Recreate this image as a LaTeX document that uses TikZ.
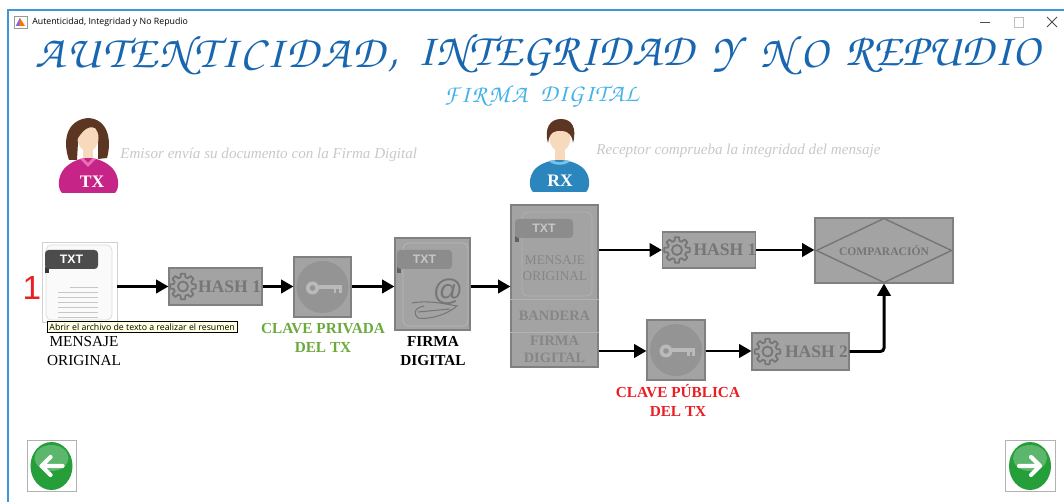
\documentclass[tikz,border=0pt]{standalone}
\usepackage{fontspec}
\setmainfont{Liberation Serif}
\newfontfamily\uifont{Open Sans}
\newfontfamily\numfont{Liberation Sans}
\usetikzlibrary{arrows.meta,calc}

% calligraphic caps for the headings
\newcommand\chancery{\fontencoding{OT1}\fontfamily{pzc}\fontseries{mb}\fontshape{it}\selectfont}
% letters of a word spread out with \hfil
\def\spreadword#1{\spreadloop#1\relax}
\def\spreadloop#1{\ifx#1\relax\else#1\hfil\expandafter\spreadloop\fi}
% word #2 spread over #1 pt
\newcommand\wideword[2]{\makebox[#1pt][s]{\spreadword{#2}\unskip}}

\definecolor{winblue}{RGB}{60,150,215}
\definecolor{titleblue}{RGB}{24,102,176}
\definecolor{subblue}{RGB}{66,178,232}
\definecolor{hintgray}{RGB}{200,200,200}
\definecolor{boxgray}{RGB}{163,163,163}
\definecolor{boxedge}{RGB}{128,128,128}
\definecolor{inkgray}{RGB}{118,118,118}
\definecolor{pktink}{RGB}{134,134,134}
\definecolor{keydisk}{RGB}{148,148,148}
\definecolor{keylight}{RGB}{186,186,186}
\definecolor{skin}{RGB}{247,218,188}
\definecolor{hair}{RGB}{92,54,34}
\definecolor{txpink}{RGB}{198,36,134}
\definecolor{txcollar}{RGB}{232,112,182}
\definecolor{rxblue}{RGB}{44,134,190}
\definecolor{rxcollar}{RGB}{122,192,228}
\definecolor{okgreen}{RGB}{106,170,60}
\definecolor{alertred}{RGB}{235,30,35}
\definecolor{navgreen}{RGB}{38,158,58}
\definecolor{tipyellow}{RGB}{255,255,225}

\tikzset{
  graybox/.style={draw=boxedge, fill=boxgray, line width=0.6pt, inner sep=0pt},
  sized/.style 2 args={minimum width=#1*0.02cm, minimum height=#2*0.02cm},
  flow/.style={line width=1.7pt, -{Triangle[length=7pt,width=7.5pt]}},
  headline/.style={text=titleblue, inner sep=0pt, font=\chancery\fontsize{26}{30}\selectfont},
  subline/.style={text=subblue, inner sep=0pt, font=\chancery\fontsize{14}{17}\selectfont},
  hint/.style={font=\itshape\fontsize{8.6}{10}\selectfont, text=hintgray, anchor=west, inner sep=0pt},
  caption/.style={font=\fontsize{8.7}{10.8}\selectfont, align=center},
  hashtext/.style={font=\bfseries\fontsize{10}{10}\selectfont, text=inkgray},
  pkttext/.style={font=\fontsize{7.6}{9.5}\selectfont, text=pktink, align=center},
  navframe/.style={draw=black!30, fill=white, line width=0.5pt},
  gear/.pic={
    \draw[inkgray, line width=1pt, line join=round] (-9:13)
      \foreach \a in {0,45,...,315}{ -- (\a-9:13) -- (\a+9:13) -- (\a+15:9.5) -- (\a+30:9.5)} -- cycle;
    \draw[inkgray, line width=1pt] (0,0) circle (5);
  }
}

% TXT tab at #1, width #2, tab colour #3, letters #4
\newcommand\txttab[4]{%
  \fill[#3] ($(#1)+(0,17)$) rectangle ($(#1)+(4,23)$);
  \fill[black, opacity=0.3] ($(#1)+(0,17)$) rectangle ($(#1)+(4,23)$);
  \fill[#3, rounded corners=2] (#1) rectangle ($(#1)+(#2,19)$);
  \node[font=\numfont\bfseries\fontsize{7}{7}\selectfont, text=#4] at ($(#1)+(0.5*#2,9.5)$) {TXT};
}
% key inside a grey tile centred at #1
\newcommand\keyicon[1]{%
  \fill[keydisk] (#1) circle (26);
  \fill[keylight] ($(#1)+(-10,1)$) circle (6.5);
  \fill[keydisk] ($(#1)+(-10,1)$) circle (2.8);
  \fill[keylight] ($(#1)+(-4,-1.5)$) rectangle ($(#1)+(19,2.5)$);
  \fill[keylight] ($(#1)+(11,2.5)$) rectangle ($(#1)+(13.5,6.5)$);
  \fill[keylight] ($(#1)+(16,2.5)$) rectangle ($(#1)+(19,6.5)$);
}

\begin{document}
\begin{tikzpicture}[x=0.02cm, y=-0.02cm]
\useasboundingbox (0,0) rectangle (1064,502);

% window frame and title bar
\draw[winblue, line width=0.6pt] (1064,10) -- (8,10) -- (8,502);
\filldraw[fill=white, draw=black!40, line width=0.3pt] (14,16) rectangle (27,28);
\fill[orange!90!red] (16,26) -- (20,18) -- (25,26) -- cycle;
\fill[blue!60] (16,26) -- (20,18) -- (19,26) -- cycle;
\node[font=\uifont\fontsize{5}{6}\selectfont, anchor=west, inner sep=0pt] (bartitle) at (32,22) {Autenticidad, Integridad y No Repudio};
\draw[black!70, line width=0.5pt] (980,22) -- (990,22);
\draw[black!25, line width=0.5pt] (1014,17) rectangle (1023,27);
\draw[black!70, line width=0.5pt] (1047,17) -- (1057,27) (1047,27) -- (1057,17);

% headings
\node[headline] (tw1) at (216.5,55) {\wideword{205.8}{AUTENTICIDAD,}};
\node[headline] (tw2) at (555.5,55) {\wideword{157}{INTEGRIDAD}};
\node[headline] (tw3) at (725.5,55) {Y};
\node[headline] (tw4) at (794,55) {\wideword{38.6}{NO}};
\node[headline] (tw5) at (942.5,55) {\wideword{110.6}{REPUDIO}};
\node[subline] (sw1) at (485.5,96) {\wideword{47}{FIRMA}};
\node[subline] (sw2) at (589.5,96) {\wideword{56}{DIGITAL}};

% sender
\fill[hair] (69,160) .. controls (62,140) and (67,120) .. (88,118) .. controls (108,119) and (112,140) .. (107,158) -- (98,159) -- (98,142) -- (78,142) -- (77,160) -- cycle;
\fill[skin] (83,146) rectangle (93,162);
\fill[skin] (88,138) ellipse (10.5 and 13.5);
\fill[hair] (77,140) .. controls (72,122) and (98,112) .. (101,133) .. controls (94,124) and (85,125) .. (77,140) -- cycle;
\fill[txpink] (62,193) .. controls (57,188) and (58,176) .. (64,169) .. controls (70,162) and (80,158) .. (88,158) .. controls (97,158) and (107,162) .. (113,169) .. controls (119,176) and (120,188) .. (115,193) -- cycle;
\fill[txcollar] (80,159) -- (88,167) -- (96,159) -- (93,158) -- (88,163) -- (83,158) -- cycle;
\node[text=white, font=\bfseries\fontsize{10}{10}\selectfont] (tx) at (92,182) {TX};
\node[hint] (emisor) at (120,155) {Emisor envía su documento con la Firma Digital};

% receiver
\fill[skin] (555,146) rectangle (565,162);
\fill[skin] (560,138) ellipse (10.5 and 13.5);
\fill[hair] (548,143) .. controls (544,128) and (550,119) .. (561,119) .. controls (572,119) and (577,128) .. (573,143) .. controls (572,133) and (566,130) .. (557,131) .. controls (551,132) and (549,136) .. (548,143) -- cycle;
\fill[rxblue] (533,192) .. controls (528,187) and (529,176) .. (535,169) .. controls (541,163) and (551,160) .. (559,160) .. controls (568,160) and (578,163) .. (584,169) .. controls (590,176) and (591,187) .. (586,192) -- cycle;
\fill[rxcollar] (549,161) .. controls (553,166) and (566,166) .. (570,161) -- (566,160) .. controls (563,163) and (556,163) .. (553,160) -- cycle;
\node[text=white, font=\bfseries\fontsize{10}{10}\selectfont] (rx) at (560,181) {RX};
\node[hint] (receptor) at (596,151) {Receptor comprueba la integridad del mensaje};

% original message file
\node[text=alertred, font=\numfont\fontsize{19}{19}\selectfont] (step) at (32,288) {1};
\node[draw=black!18, fill=white, line width=0.4pt, sized={75}{80}] (msg) at (79.5,282) {};
\draw[black!14, fill=black!2, rounded corners=3] (46,245) rectangle (112,320);
\foreach \y in {292,297,...,317} \draw[black!22, line width=0.4pt] (58,\y) -- (98,\y);
\draw[black!22, line width=0.4pt] (70,287) -- (98,287);
\txttab{45,250}{53}{black!70}{white}
\node[caption, text=black] (msgcap) at (84,351) {MENSAJE\\ORIGINAL};
\node[draw=black, fill=tipyellow, line width=0.4pt, inner sep=1.2pt, anchor=north west,
  font=\uifont\fontsize{5}{5.5}\selectfont] (tip) at (47,321) {Abrir el archivo de texto a realizar el resumen};

% sender side chain
\node[graybox, sized={93}{37}] (hashA) at (215.5,286.5) {};
\pic at ($(hashA.west)+(14.5,0)$) {gear};
\node[hashtext] at ($(hashA.center)+(14,0)$) {HASH 1};
\node[graybox, sized={57}{60}] (keyA) at (322.5,287) {};
\keyicon{keyA.center}
\node[caption, text=okgreen, font=\bfseries\fontsize{8.7}{10.8}\selectfont] (keyAcap) at (323,338) {CLAVE PRIVADA\\DEL TX};
\node[graybox, sized={75}{92}] (sig) at (432.5,284) {};
\draw[black!28, rounded corners=3] (403,243) rectangle (468,326);
\txttab{397,250}{55}{black!45}{black!22}
\node[text=inkgray, font=\numfont\fontsize{17}{17}\selectfont] at (448,292) {@};
\draw[inkgray, line width=0.6pt] (412,303) .. controls (428,300) and (446,304) .. (457,306)
  .. controls (448,314) and (430,320) .. (418,318) .. controls (413,314) and (414,308) .. (424,306);
\draw[inkgray, line width=0.6pt] (418,312) -- (450,309);
\node[caption, font=\bfseries\fontsize{8.7}{10.8}\selectfont] (sigcap) at (433,351) {FIRMA\\DIGITAL};

% packet sent to the receiver
\node[graybox, sized={87}{162}] (pkt) at (554.5,286) {};
\draw[black!30, rounded corners=3] (522,212) rectangle (592,296);
\txttab{515,219}{58}{black!45}{black!22}
\node[pkttext] at (555,268) {MENSAJE\\ORIGINAL};
\draw[black!30] (pkt.west |- 0,299) -- (pkt.east |- 0,299);
\node[pkttext, font=\bfseries\fontsize{8.2}{9.5}\selectfont] at (554.5,316) {BANDERA};
\draw[black!30] (pkt.west |- 0,332) -- (pkt.east |- 0,332);
\node[pkttext, font=\bfseries\fontsize{8.2}{9.5}\selectfont] at (554.5,349) {FIRMA\\DIGITAL};

% receiver side chain
\node[graybox, sized={93}{36}] (hashB) at (709,250) {};
\pic at ($(hashB.west)+(15,0)$) {gear};
\node[hashtext] at ($(hashB.center)+(16,0)$) {HASH 1};
\node[graybox, sized={138}{65}] (cmp) at (884,250.5) {};
\draw[inkgray, line width=0.8pt] ($(cmp.west)+(2,0)$) -- ($(cmp.north)+(0,1)$) -- ($(cmp.east)+(-2,0)$) -- ($(cmp.south)+(0,-1)$) -- cycle;
\node[text=inkgray, font=\bfseries\fontsize{6.6}{7}\selectfont] at (cmp.center) {COMPARACIÓN};
\node[graybox, sized={58}{60}] (keyB) at (676,350) {};
\keyicon{keyB.center}
\node[caption, text=alertred, font=\bfseries\fontsize{8.7}{10.8}\selectfont] (keyBcap) at (678,400) {CLAVE PÚBLICA\\DEL TX};
\node[graybox, sized={97}{37}] (hashC) at (800.5,351.5) {};
\pic at ($(hashC.west)+(16,0)$) {gear};
\node[hashtext] at ($(hashC.center)+(16,0)$) {HASH 2};

% connectors
\draw[flow] (msg.east |- hashA.west) -- (hashA.west);
\draw[flow] (hashA.east) -- (keyA.west |- hashA.east);
\draw[flow] (keyA.east |- hashA.east) -- (sig.west |- hashA.east);
\draw[flow] (sig.east |- hashA.east) -- (pkt.west |- hashA.east);
\draw[flow] (pkt.east |- hashB.west) -- (hashB.west);
\draw[flow] (hashB.east) -- (cmp.west |- hashB.east);
\draw[flow] (pkt.east |- 0,351) -- (keyB.west |- 0,351);
\draw[flow] (keyB.east |- 0,351) -- (hashC.west |- 0,351);
\draw[flow, rounded corners=2] (hashC.east) -| (cmp.south);

% navigation buttons
\node[navframe, sized={49}{51}] (back) at (51.5,466) {};
\fill[navgreen] (back.center) ellipse (21 and 24);
\fill[white, opacity=0.25] ($(back.center)+(0,-8)$) ellipse (17 and 13);
\draw[white, line width=2.4pt, line cap=round, line join=round] ($(back.center)+(-1,-9)$) -- ($(back.center)+(-10,0)$) -- ($(back.center)+(-1,9)$) ($(back.center)+(-10,0)$) -- ($(back.center)+(11,0)$);
\node[navframe, sized={50}{51}] (next) at (1030,466) {};
\fill[navgreen] (next.center) ellipse (21 and 24);
\fill[white, opacity=0.25] ($(next.center)+(0,-8)$) ellipse (17 and 13);
\draw[white, line width=2.4pt, line cap=round, line join=round] ($(next.center)+(1,-9)$) -- ($(next.center)+(10,0)$) -- ($(next.center)+(1,9)$) ($(next.center)+(10,0)$) -- ($(next.center)+(-11,0)$);
\end{tikzpicture}
\end{document}
